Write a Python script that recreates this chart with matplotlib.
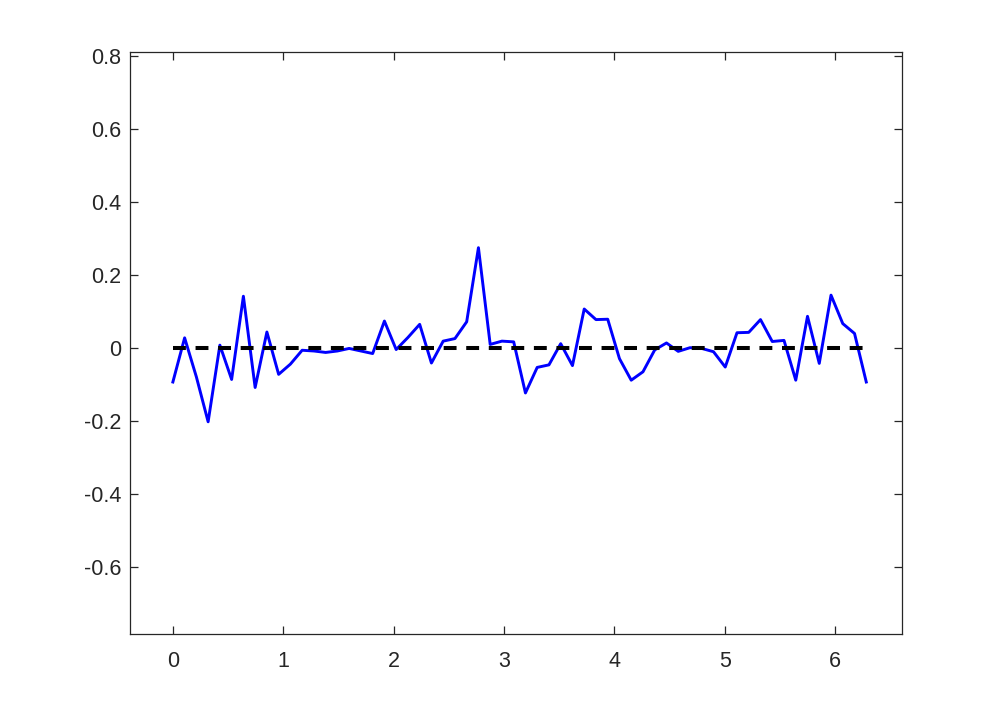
import numpy as np
import matplotlib
matplotlib.use('Agg')
import matplotlib.pyplot as plt

# sampled error curve, 60 points over [0, 2*pi]
n_points = 60
err_values = [
    -0.094, 0.027, -0.080, -0.203, 0.007, -0.087, 0.141, -0.109, 0.043, -0.073,
    -0.045, -0.007, -0.009, -0.013, -0.009, -0.002, -0.009, -0.016, 0.073, -0.005,
    0.028, 0.064, -0.042, 0.018, 0.025, 0.071, 0.274, 0.009, 0.018, 0.016,
    -0.124, -0.054, -0.047, 0.011, -0.049, 0.106, 0.077, 0.078, -0.030, -0.089,
    -0.066, -0.006, 0.013, -0.010, 0.000, -0.002, -0.011, -0.053, 0.041, 0.042,
    0.077, 0.017, 0.020, -0.089, 0.086, -0.043, 0.144, 0.066, 0.039, -0.094,
]
x_ticks = [0, 1, 2, 3, 4, 5, 6]
y_ticks = [-0.6, -0.4, -0.2, 0, 0.2, 0.4, 0.6, 0.8]
y_tick_labels = ['-0.6', '-0.4', '-0.2', '0', '0.2', '0.4', '0.6', '0.8']

x = np.linspace(0, 2 * np.pi, n_points)

plt.rcParams['font.family'] = ['Liberation Sans', 'DejaVu Sans']

fig = plt.figure(figsize=(9.97, 7.13), dpi=100)
ax = fig.add_axes([0.13, 0.111, 0.7745, 0.8165])

ax.plot(x, err_values, color='#0000ff', linewidth=2.1)
ax.plot([0, 2 * np.pi], [0, 0], color='black', linewidth=2.9,
        linestyle=(0, (3.2, 2.4)))

ax.set_xlim(-0.392, 6.605)
ax.set_ylim(-0.784, 0.811)
ax.set_xticks(x_ticks)
ax.set_yticks(y_ticks)
ax.set_yticklabels(y_tick_labels)

edge = '#262626'
for side in ax.spines.values():
    side.set_color(edge)
    side.set_linewidth(0.9)
ax.tick_params(direction='in', length=5.5, width=0.9, color=edge,
               labelcolor='#262626', labelsize=15.5,
               top=True, right=True)
ax.tick_params(axis='y', pad=6)
ax.tick_params(axis='x', pad=12)

fig.savefig('out.png', dpi=100)
